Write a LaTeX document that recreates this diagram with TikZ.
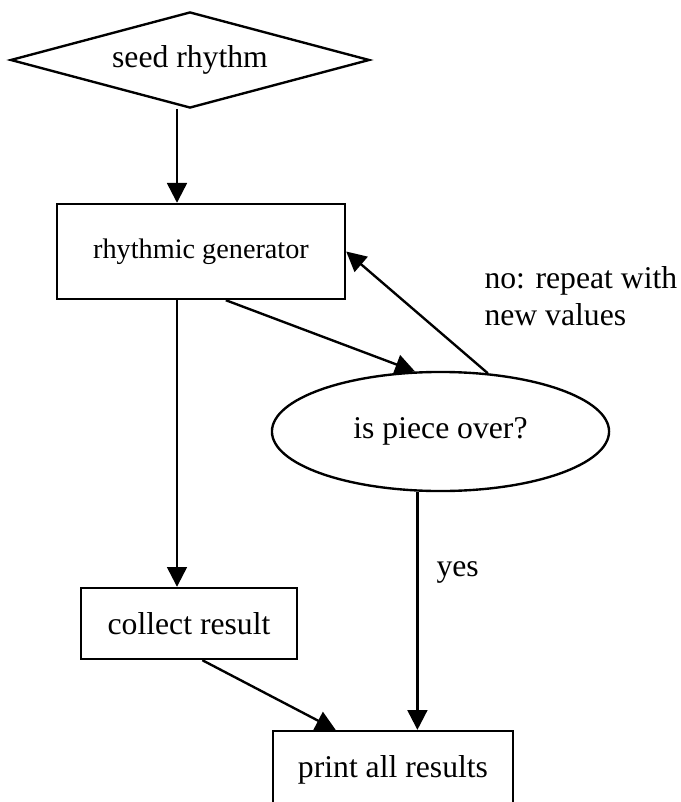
\documentclass[tikz,border=0pt]{standalone}
\usepackage{fontspec}
\setmainfont{Liberation Serif}
\usetikzlibrary{shapes.geometric,arrows.meta}

\begin{document}
\begin{tikzpicture}[
        x=0.3788pt, y=-0.3788pt,
        decision/.style={diamond, draw, line width=0.9pt, inner sep=0pt, aspect=3.7, minimum width=136pt, minimum height=36.4pt, font=\fontsize{12}{14}\selectfont},
        process/.style={rectangle, draw, line width=0.9pt, inner sep=0pt, font=\fontsize{12}{14}\selectfont},
        test/.style={ellipse, draw, line width=0.9pt, inner sep=0pt, minimum width=127.7pt, minimum height=45.1pt, font=\fontsize{12}{14}\selectfont},
        label_n/.style={anchor=west, align=left, inner sep=0pt, font=\fontsize{12}{14}\selectfont},
        flow edge/.style={draw, line width=0.9pt, -{Triangle[length=7.5pt, width=7.5pt]}}
    ]
	\useasboundingbox (0,0) rectangle (680,802);
	\clip (0,0) rectangle (680,802);
	\node[decision] (seed) at (190,60) {seed rhythm};
	\node[process, minimum width=109.1pt, minimum height=36pt, font=\fontsize{10.7}{13}\selectfont] (gen) at (201,251.5) {rhythmic generator};
	\node[test] (ask) at (440.5,431.5) {is piece over?};
	\node[process, minimum width=81.8pt, minimum height=26.9pt] (collect) at (189,623.5) {collect result};
	\node[process, minimum width=90.9pt, minimum height=29.5pt] (print) at (393,770) {print all results};
	\coordinate (trunk) at (177,0);
	\draw[flow edge] (seed.south -| trunk) -- (gen.north -| trunk);
	\draw[flow edge] (gen.south -| trunk) -- (collect.north -| trunk);
	\draw[flow edge] (gen.-63) -- (ask.113);
	\draw[flow edge] (ask.51) -- (gen.east);
	\draw[flow edge] (ask.-111) -- (ask.-111 |- print.north);
	\draw[flow edge] (collect.-70) -- (print.145);
	\node[label_n] (no_lbl) at (484,296) {no: repeat with\\new values};
	\node[label_n] (yes_lbl) at (436,572) {yes};
\end{tikzpicture}
\end{document}
